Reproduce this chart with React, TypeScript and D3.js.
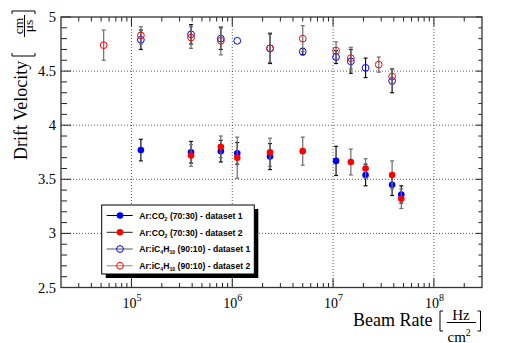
import * as d3 from "d3";

// Beam rate in Hz/cm^2, drift velocity in cm/us
const co2Set1Rate = [1.24e5, 3.9e5, 7.7e5, 1.12e6, 2.37e6, 1.07e7, 2.1e7, 3.85e7, 4.75e7];
const co2Set1Vel = [3.77, 3.75, 3.76, 3.74, 3.71, 3.67, 3.54, 3.45, 3.36];
const co2Set1Err = [0.1, 0.1, 0.1, 0.1, 0.12, 0.135, 0.1, 0.1, 0.08];

const co2Set2Rate = [3.9e5, 7.7e5, 1.12e6, 2.37e6, 5.0e6, 1.5e7, 2.1e7, 3.85e7, 4.75e7];
const co2Set2Vel = [3.72, 3.8, 3.7, 3.75, 3.76, 3.66, 3.6, 3.54, 3.32];
const co2Set2Err = [0.1, 0.1, 0.19, 0.13, 0.13, 0.12, 0.09, 0.13, 0.09];

const isoSet1Rate = [1.24e5, 3.9e5, 7.7e5, 1.12e6, 2.37e6, 5.0e6, 1.07e7, 1.5e7, 2.1e7, 3.85e7];
const isoSet1Vel = [4.79, 4.84, 4.8, 4.78, 4.71, 4.68, 4.63, 4.59, 4.53, 4.41];
const isoSet1Err = [0.09, 0.09, 0.1, 0, 0.14, 0.03, 0.06, 0.11, 0.09, 0.11];

const isoSet2Rate = [5.3e4, 1.24e5, 3.9e5, 7.7e5, 2.37e6, 5.0e6, 1.07e7, 1.5e7, 2.84e7, 3.85e7];
const isoSet2Vel = [4.74, 4.83, 4.81, 4.78, 4.71, 4.8, 4.69, 4.62, 4.56, 4.45];
const isoSet2Err = [0.14, 0.08, 0.1, 0.13, 0.13, 0.12, 0.08, 0.1, 0.07, 0.07];

const xDecades = [1e5, 1e6, 1e7, 1e8];
const yGridValues = [3, 3.5, 4, 4.5];
const yLabelValues = [2.5, 3, 3.5, 4, 4.5, 5];

const margin = { left: 61, right: 482, top: 17, bottom: 287.5 };

const x = d3.scaleLog().domain([2e4, 3e8]).range([margin.left, margin.right]);
const y = d3.scaleLinear().domain([2.5, 5]).range([margin.bottom, margin.top]);

const series = [
  { rate: co2Set1Rate, vel: co2Set1Vel, err: co2Set1Err, color: "#0000ff", filled: true, errColor: "#111", lineColor: "#000" },
  { rate: co2Set2Rate, vel: co2Set2Vel, err: co2Set2Err, color: "#ff0000", filled: true, errColor: "#6e6e6e", lineColor: "#222" },
  { rate: isoSet1Rate, vel: isoSet1Vel, err: isoSet1Err, color: "#0000ff", filled: false, errColor: "#111", lineColor: "#555" },
  { rate: isoSet2Rate, vel: isoSet2Vel, err: isoSet2Err, color: "#ff0000", filled: false, errColor: "#6e6e6e", lineColor: "#888" },
];

// minor ticks on log axis
const xMinor: number[] = [];
[1e4, 1e5, 1e6, 1e7, 1e8].forEach((dec) => {
  for (let k = 2; k <= 9; k++) {
    const v = dec * k;
    if (v > 2e4 && v < 3e8) xMinor.push(v);
  }
});
const yMinor = d3.range(25, 51).map((d) => d / 10);

function ErrorBars({ s }: any) {
  return (
    <g stroke={s.errColor} strokeWidth={1.2}>
      {s.rate.map((r: number, i: number) => {
        if (!s.err[i]) return null;
        const cx = x(r);
        const y1 = y(s.vel[i] + s.err[i]);
        const y2 = y(s.vel[i] - s.err[i]);
        return (
          <g key={i}>
            <line x1={cx} x2={cx} y1={y1} y2={y2} />
            <line x1={cx - 2} x2={cx + 2} y1={y1} y2={y1} />
            <line x1={cx - 2} x2={cx + 2} y1={y2} y2={y2} />
          </g>
        );
      })}
    </g>
  );
}

function Marker({ cx, cy, s }: any) {
  return s.filled ? (
    <circle cx={cx} cy={cy} r={3.3} fill={s.color} />
  ) : (
    <circle cx={cx} cy={cy} r={3.4} fill="none" stroke={s.color} strokeWidth={1} />
  );
}

const legendLabels = [
  ["CO", "2", "", "", " (70:30) - dataset 1"],
  ["CO", "2", "", "", " (70:30) - dataset 2"],
  ["iC", "4", "H", "10", " (90:10) - dataset 1"],
  ["iC", "4", "H", "10", " (90:10) - dataset 2"],
];

export default function App() {
  const serif = "'Liberation Serif', 'DejaVu Serif', serif";
  const sans = "'Liberation Sans', Arial, sans-serif";
  const legX = 101.7, legY = 205, legW = 152.6, legH = 69;
  const rowY = [215.5, 232.3, 249, 265.8];

  return (
    <div style={{ position: "fixed", left: 0, top: 0 }}>
      <svg width={508} height={343} style={{ display: "block", background: "#fff" }}>
        {/* grid */}
        <g stroke="#333" strokeWidth={0.8} strokeDasharray="1,2">
          {xDecades.map((d) => (
            <line key={d} x1={x(d)} x2={x(d)} y1={margin.top} y2={margin.bottom} />
          ))}
          {yGridValues.map((v) => (
            <line key={v} x1={margin.left} x2={margin.right} y1={y(v)} y2={y(v)} />
          ))}
        </g>

        {/* ticks */}
        <g stroke="#222" strokeWidth={1}>
          {xMinor.map((v) => (
            <g key={"xm" + v}>
              <line x1={x(v)} x2={x(v)} y1={margin.bottom} y2={margin.bottom - 4.5} />
              <line x1={x(v)} x2={x(v)} y1={margin.top} y2={margin.top + 4.5} />
            </g>
          ))}
          {xDecades.map((v) => (
            <g key={"xM" + v}>
              <line x1={x(v)} x2={x(v)} y1={margin.bottom} y2={margin.bottom - 9} />
              <line x1={x(v)} x2={x(v)} y1={margin.top} y2={margin.top + 9} />
            </g>
          ))}
          {yMinor.map((v, i) => {
            const len = i % 5 === 0 ? 10 : 6;
            return (
              <g key={"ym" + i}>
                <line x1={margin.left} x2={margin.left + len} y1={y(v)} y2={y(v)} />
                <line x1={margin.right} x2={margin.right - len * 0.6} y1={y(v)} y2={y(v)} />
              </g>
            );
          })}
        </g>

        {/* frame */}
        <rect x={margin.left} y={margin.top} width={margin.right - margin.left} height={margin.bottom - margin.top}
          fill="none" stroke="#333" strokeWidth={1.3} />

        {/* data */}
        {series.map((s, i) => (
          <g key={i}>
            <ErrorBars s={s} />
            {s.rate.map((r, j) => (
              <Marker key={j} cx={x(r)} cy={y(s.vel[j])} s={s} />
            ))}
          </g>
        ))}

        {/* y tick labels */}
        <g fontFamily={serif} fontSize={14.5} textAnchor="end">
          {yLabelValues.map((v) => (
            <text key={v} x={56} y={y(v) + 5}>{v}</text>
          ))}
        </g>

        {/* x tick labels */}
        <g fontFamily={serif}>
          {xDecades.map((d) => (
            <text key={d} x={x(d) - 9} y={307.5} fontSize={14}>
              10
              <tspan dy={-7} fontSize={10}>{Math.round(Math.log10(d))}</tspan>
            </text>
          ))}
        </g>

        {/* x axis title */}
        <g fontFamily={serif} fill="#000">
          <text x={353} y={326} fontSize={18}>Beam Rate</text>
          <path d="M443,311 H440 V331 H443" fill="none" stroke="#000" strokeWidth={1} />
          <text x={461} y={319.5} fontSize={15}>
            <tspan textAnchor="middle">Hz</tspan>
          </text>
          <line x1={447} x2={476} y1={322.5} y2={322.5} stroke="#000" strokeWidth={1} />
          <text x={447.5} y={341.5} fontSize={15}>
            cm<tspan dy={-6} fontSize={10}>2</tspan>
          </text>
          <path d="M477.5,311 H480.5 V331 H477.5" fill="none" stroke="#000" strokeWidth={1} />
        </g>

        {/* y axis title */}
        <g fontFamily={serif} transform="translate(27,160) rotate(-90)">
          <text x={0} y={0} fontSize={18}>Drift Velocity</text>
          <path d="M107,-15 H104 V8 H107" fill="none" stroke="#000" strokeWidth={1} />
          <text x={134} y={-4.5} fontSize={13.5} textAnchor="middle">cm</text>
          <line x1={123} x2={145} y1={-2.5} y2={-2.5} stroke="#000" strokeWidth={1} />
          <text x={134} y={6} fontSize={13.5} textAnchor="middle">μs</text>
          <path d="M146,-15 H149 V8 H146" fill="none" stroke="#000" strokeWidth={1} />
        </g>

        {/* legend */}
        <rect x={legX + 4} y={legY + 4} width={legW} height={legH} fill="#000" />
        <rect x={legX} y={legY} width={legW} height={legH} fill="#fff" stroke="#000" strokeWidth={1} />
        {series.map((s, i) => {
          const lab = legendLabels[i];
          return (
            <g key={i}>
              <line x1={106.7} x2={132.7} y1={rowY[i]} y2={rowY[i]} stroke={s.lineColor} strokeWidth={1} />
              <Marker cx={120} cy={rowY[i]} s={s} />
              <text x={139.3} y={rowY[i] + 3.2} fontFamily={sans} fontWeight="bold" fontSize={8.6}>
                Ar:{lab[0]}
                <tspan dy={2} fontSize={5.2}>{lab[1]}</tspan>
                {lab[2] ? (
                  <>
                    <tspan dy={-2}>{lab[2]}</tspan>
                    <tspan dy={2} fontSize={5.2}>{lab[3]}</tspan>
                  </>
                ) : null}
                <tspan dy={-2}>{lab[4]}</tspan>
              </text>
            </g>
          );
        })}
      </svg>
    </div>
  );
}
